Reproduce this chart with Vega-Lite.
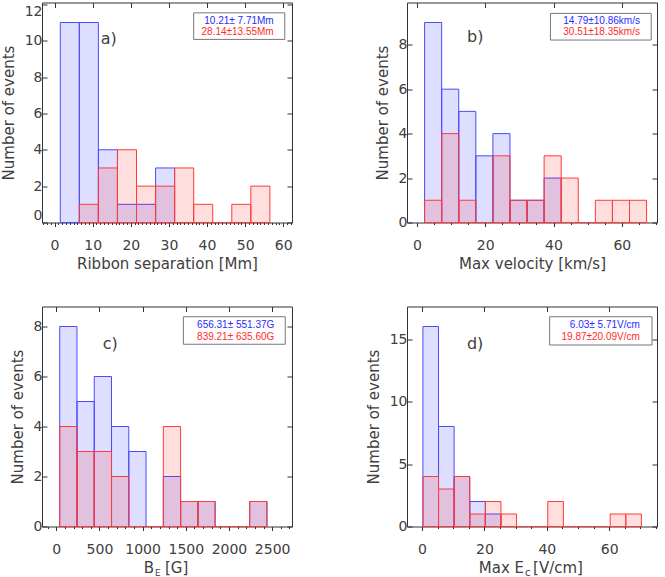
{
  "$schema": "https://vega.github.io/schema/vega-lite/v6.json",
  "padding": {"left": 0, "top": 1.5, "right": 0, "bottom": 0},
  "background": "white",
  "datasets": {
    "hist": [
      {"p": "a", "g": "A", "x0": 1.5, "x1": 6.5, "n": 11},
      {"p": "a", "g": "A", "x0": 6.5, "x1": 11.5, "n": 11},
      {"p": "a", "g": "A", "x0": 11.5, "x1": 16.5, "n": 4},
      {"p": "a", "g": "A", "x0": 16.5, "x1": 21.5, "n": 1},
      {"p": "a", "g": "A", "x0": 21.5, "x1": 26.5, "n": 1},
      {"p": "a", "g": "A", "x0": 26.5, "x1": 31.5, "n": 3},
      {"p": "a", "g": "B", "x0": 6.5, "x1": 11.5, "n": 1},
      {"p": "a", "g": "B", "x0": 11.5, "x1": 16.5, "n": 3},
      {"p": "a", "g": "B", "x0": 16.5, "x1": 21.5, "n": 4},
      {"p": "a", "g": "B", "x0": 21.5, "x1": 26.5, "n": 2},
      {"p": "a", "g": "B", "x0": 26.5, "x1": 31.5, "n": 2},
      {"p": "a", "g": "B", "x0": 31.5, "x1": 36.5, "n": 3},
      {"p": "a", "g": "B", "x0": 36.5, "x1": 41.5, "n": 1},
      {"p": "a", "g": "B", "x0": 41.5, "x1": 46.5, "n": 0},
      {"p": "a", "g": "B", "x0": 46.5, "x1": 51.5, "n": 1},
      {"p": "a", "g": "B", "x0": 51.5, "x1": 56.5, "n": 2},

      {"p": "b", "g": "A", "x0": 2.25, "x1": 7.25, "n": 9},
      {"p": "b", "g": "A", "x0": 7.25, "x1": 12.25, "n": 6},
      {"p": "b", "g": "A", "x0": 12.25, "x1": 17.25, "n": 5},
      {"p": "b", "g": "A", "x0": 17.25, "x1": 22.25, "n": 3},
      {"p": "b", "g": "A", "x0": 22.25, "x1": 27.25, "n": 4},
      {"p": "b", "g": "A", "x0": 27.25, "x1": 32.25, "n": 1},
      {"p": "b", "g": "A", "x0": 32.25, "x1": 37.25, "n": 1},
      {"p": "b", "g": "A", "x0": 37.25, "x1": 42.25, "n": 2},
      {"p": "b", "g": "B", "x0": 2.25, "x1": 7.25, "n": 1},
      {"p": "b", "g": "B", "x0": 7.25, "x1": 12.25, "n": 4},
      {"p": "b", "g": "B", "x0": 12.25, "x1": 17.25, "n": 1},
      {"p": "b", "g": "B", "x0": 17.25, "x1": 22.25, "n": 0},
      {"p": "b", "g": "B", "x0": 22.25, "x1": 27.25, "n": 3},
      {"p": "b", "g": "B", "x0": 27.25, "x1": 32.25, "n": 1},
      {"p": "b", "g": "B", "x0": 32.25, "x1": 37.25, "n": 1},
      {"p": "b", "g": "B", "x0": 37.25, "x1": 42.25, "n": 3},
      {"p": "b", "g": "B", "x0": 42.25, "x1": 47.25, "n": 2},
      {"p": "b", "g": "B", "x0": 47.25, "x1": 52.25, "n": 0},
      {"p": "b", "g": "B", "x0": 52.25, "x1": 57.25, "n": 1},
      {"p": "b", "g": "B", "x0": 57.25, "x1": 62.25, "n": 1},
      {"p": "b", "g": "B", "x0": 62.25, "x1": 67.25, "n": 1},

      {"p": "c", "g": "A", "x0": 40, "x1": 240, "n": 8},
      {"p": "c", "g": "A", "x0": 240, "x1": 440, "n": 5},
      {"p": "c", "g": "A", "x0": 440, "x1": 640, "n": 6},
      {"p": "c", "g": "A", "x0": 640, "x1": 840, "n": 4},
      {"p": "c", "g": "A", "x0": 840, "x1": 1040, "n": 3},
      {"p": "c", "g": "A", "x0": 1040, "x1": 1240, "n": 0},
      {"p": "c", "g": "A", "x0": 1240, "x1": 1440, "n": 2},
      {"p": "c", "g": "A", "x0": 1440, "x1": 1640, "n": 1},
      {"p": "c", "g": "A", "x0": 1640, "x1": 1840, "n": 1},
      {"p": "c", "g": "A", "x0": 1840, "x1": 2040, "n": 0},
      {"p": "c", "g": "A", "x0": 2040, "x1": 2240, "n": 0},
      {"p": "c", "g": "A", "x0": 2240, "x1": 2440, "n": 1},
      {"p": "c", "g": "B", "x0": 40, "x1": 240, "n": 4},
      {"p": "c", "g": "B", "x0": 240, "x1": 440, "n": 3},
      {"p": "c", "g": "B", "x0": 440, "x1": 640, "n": 3},
      {"p": "c", "g": "B", "x0": 640, "x1": 840, "n": 2},
      {"p": "c", "g": "B", "x0": 840, "x1": 1040, "n": 0},
      {"p": "c", "g": "B", "x0": 1040, "x1": 1240, "n": 0},
      {"p": "c", "g": "B", "x0": 1240, "x1": 1440, "n": 4},
      {"p": "c", "g": "B", "x0": 1440, "x1": 1640, "n": 1},
      {"p": "c", "g": "B", "x0": 1640, "x1": 1840, "n": 1},
      {"p": "c", "g": "B", "x0": 1840, "x1": 2040, "n": 0},
      {"p": "c", "g": "B", "x0": 2040, "x1": 2240, "n": 0},
      {"p": "c", "g": "B", "x0": 2240, "x1": 2440, "n": 1},

      {"p": "d", "g": "A", "x0": 0.3, "x1": 5.3, "n": 16},
      {"p": "d", "g": "A", "x0": 5.3, "x1": 10.3, "n": 8},
      {"p": "d", "g": "A", "x0": 10.3, "x1": 15.3, "n": 4},
      {"p": "d", "g": "A", "x0": 15.3, "x1": 20.3, "n": 2},
      {"p": "d", "g": "A", "x0": 20.3, "x1": 25.3, "n": 1},
      {"p": "d", "g": "B", "x0": 0.3, "x1": 5.3, "n": 4},
      {"p": "d", "g": "B", "x0": 5.3, "x1": 10.3, "n": 3},
      {"p": "d", "g": "B", "x0": 10.3, "x1": 15.3, "n": 4},
      {"p": "d", "g": "B", "x0": 15.3, "x1": 20.3, "n": 1},
      {"p": "d", "g": "B", "x0": 20.3, "x1": 25.3, "n": 2},
      {"p": "d", "g": "B", "x0": 25.3, "x1": 30.3, "n": 1},
      {"p": "d", "g": "B", "x0": 30.3, "x1": 35.3, "n": 0},
      {"p": "d", "g": "B", "x0": 35.3, "x1": 40.3, "n": 0},
      {"p": "d", "g": "B", "x0": 40.3, "x1": 45.3, "n": 2},
      {"p": "d", "g": "B", "x0": 45.3, "x1": 50.3, "n": 0},
      {"p": "d", "g": "B", "x0": 50.3, "x1": 55.3, "n": 0},
      {"p": "d", "g": "B", "x0": 55.3, "x1": 60.3, "n": 0},
      {"p": "d", "g": "B", "x0": 60.3, "x1": 65.3, "n": 1},
      {"p": "d", "g": "B", "x0": 65.3, "x1": 70.3, "n": 1}
    ]
  },
  "columns": 2,
  "spacing": {"row": 84, "column": 115},
  "bounds": "flush",
  "concat": [
    {
      "width": 250,
      "height": 220,
      "layer": [
        {
          "data": {"name": "hist"},
          "transform": [{"filter": "datum.p === 'a'"}],
          "mark": {"type": "rect", "fillOpacity": 0.13, "strokeWidth": 1},
          "encoding": {
            "x": {"field": "x0", "type": "quantitative",
                  "scale": {"domain": [-3.3, 62.3], "nice": false, "zero": false},
                  "axis": {"orient": "bottom", "values": [0, 10, 20, 30, 40, 50, 60], "tickSize": 4, "title": "Ribbon separation [Mm]"}},
            "x2": {"field": "x1"},
            "y": {"field": "n", "type": "quantitative",
                  "scale": {"domain": [0, 12.1], "nice": false},
                  "axis": {"orient": "left", "values": [0, 2, 4, 6, 8, 10, 12], "tickSize": -5, "labelFlush": 6, "title": "Number of events"}},
            "y2": {"datum": 0},
            "fill": {"field": "g", "type": "nominal", "scale": {"domain": ["A", "B"], "range": ["#0000ff", "#ff0000"]}, "legend": null},
            "stroke": {"field": "g", "type": "nominal", "scale": {"domain": ["A", "B"], "range": ["#4a4aff", "#ff3a3a"]}, "legend": null}
          }
        },
        {
          "data": {"values": [{}]},
          "mark": {"type": "rect", "fill": "white", "stroke": "#777777", "strokeWidth": 1},
          "encoding": {
            "x": {"datum": 36.5, "type": "quantitative",
                  "axis": {"orient": "bottom", "values": [-3, -2, -1, 0, 1, 2, 3, 4, 5, 6, 7, 8, 9, 10, 11, 12, 13, 14, 15, 16, 17, 18, 19, 20, 21, 22, 23, 24, 25, 26, 27, 28, 29, 30, 31, 32, 33, 34, 35, 36, 37, 38, 39, 40, 41, 42, 43, 44, 45, 46, 47, 48, 49, 50, 51, 52, 53, 54, 55, 56, 57, 58, 59, 60, 61, 62], "tickSize": 2, "labels": false, "title": null}},
            "x2": {"datum": 60.4},
            "y": {"datum": 11.53, "type": "quantitative",
                  "axis": {"orient": "right", "values": [0, 2, 4, 6, 8, 10, 12], "tickSize": -5, "labels": false, "title": null}},
            "y2": {"datum": 10.07}
          }
        },
        {
          "data": {"values": [{}]},
          "mark": {"type": "text", "align": "right", "baseline": "middle", "font": "Liberation Sans", "fontSize": 10, "color": "#2a2aff"},
          "encoding": {
            "x": {"datum": 57.5, "type": "quantitative",
                  "axis": {"orient": "top", "values": [0, 10, 20, 30, 40, 50, 60], "tickSize": -5, "labels": false, "title": null}},
            "y": {"datum": 11.11, "type": "quantitative", "axis": null},
            "text": {"value": "10.21± 7.71Mm"}
          }
        },
        {
          "data": {"values": [{}]},
          "mark": {"type": "text", "align": "right", "baseline": "middle", "font": "Liberation Sans", "fontSize": 10, "color": "#ff2a2a"},
          "encoding": {
            "x": {"datum": 57.5, "type": "quantitative", "axis": null},
            "y": {"datum": 10.5, "type": "quantitative", "axis": null},
            "text": {"value": "28.14±13.55Mm"}
          }
        },
        {
          "data": {"values": [{}]},
          "mark": {"type": "text", "align": "left", "baseline": "middle", "font": "DejaVu Sans", "fontSize": 16, "color": "#404040"},
          "encoding": {
            "x": {"datum": 12.1, "type": "quantitative", "axis": null},
            "y": {"datum": 10.09, "type": "quantitative", "axis": null},
            "text": {"value": "a)"}
          }
        }
      ],
      "resolve": {"axis": {"x": "independent", "y": "independent"}}
    },
    {
      "width": 250,
      "height": 220,
      "layer": [
        {
          "data": {"name": "hist"},
          "transform": [{"filter": "datum.p === 'b'"}],
          "mark": {"type": "rect", "fillOpacity": 0.13, "strokeWidth": 1},
          "encoding": {
            "x": {"field": "x0", "type": "quantitative",
                  "scale": {"domain": [-2.9, 70.3], "nice": false, "zero": false},
                  "axis": {"orient": "bottom", "values": [0, 20, 40, 60], "tickSize": 4, "title": "Max velocity [km/s]"}},
            "x2": {"field": "x1"},
            "y": {"field": "n", "type": "quantitative",
                  "scale": {"domain": [0, 9.9], "nice": false},
                  "axis": {"orient": "left", "values": [0, 2, 4, 6, 8], "tickSize": -5, "title": "Number of events"}},
            "y2": {"datum": 0},
            "fill": {"field": "g", "type": "nominal", "scale": {"domain": ["A", "B"], "range": ["#0000ff", "#ff0000"]}, "legend": null},
            "stroke": {"field": "g", "type": "nominal", "scale": {"domain": ["A", "B"], "range": ["#4a4aff", "#ff3a3a"]}, "legend": null}
          }
        },
        {
          "data": {"values": [{}]},
          "mark": {"type": "rect", "fill": "white", "stroke": "#777777", "strokeWidth": 1},
          "encoding": {
            "x": {"datum": 39.1, "type": "quantitative",
                  "axis": {"orient": "bottom", "values": [0, 5, 10, 15, 20, 25, 30, 35, 40, 45, 50, 55, 60, 65, 70], "tickSize": 2, "labels": false, "title": null}},
            "x2": {"datum": 68.6},
            "y": {"datum": 9.41, "type": "quantitative",
                  "axis": {"orient": "right", "values": [0, 2, 4, 6, 8], "tickSize": -5, "labels": false, "title": null}},
            "y2": {"datum": 8.21}
          }
        },
        {
          "data": {"values": [{}]},
          "mark": {"type": "text", "align": "right", "baseline": "middle", "font": "Liberation Sans", "fontSize": 10, "color": "#2a2aff"},
          "encoding": {
            "x": {"datum": 65.3, "type": "quantitative",
                  "axis": {"orient": "top", "values": [0, 20, 40, 60], "tickSize": -5, "labels": false, "title": null}},
            "y": {"datum": 9.07, "type": "quantitative", "axis": null},
            "text": {"value": "14.79±10.86km/s"}
          }
        },
        {
          "data": {"values": [{}]},
          "mark": {"type": "text", "align": "right", "baseline": "middle", "font": "Liberation Sans", "fontSize": 10, "color": "#ff2a2a"},
          "encoding": {
            "x": {"datum": 65.3, "type": "quantitative", "axis": null},
            "y": {"datum": 8.57, "type": "quantitative", "axis": null},
            "text": {"value": "30.51±18.35km/s"}
          }
        },
        {
          "data": {"values": [{}]},
          "mark": {"type": "text", "align": "left", "baseline": "middle", "font": "DejaVu Sans", "fontSize": 16, "color": "#404040"},
          "encoding": {
            "x": {"datum": 14.7, "type": "quantitative", "axis": null},
            "y": {"datum": 8.35, "type": "quantitative", "axis": null},
            "text": {"value": "b)"}
          }
        }
      ],
      "resolve": {"axis": {"x": "independent", "y": "independent"}}
    },
    {
      "width": 250,
      "height": 220,
      "layer": [
        {
          "data": {"name": "hist"},
          "transform": [{"filter": "datum.p === 'c'"}],
          "mark": {"type": "rect", "fillOpacity": 0.13, "strokeWidth": 1},
          "encoding": {
            "x": {"field": "x0", "type": "quantitative",
                  "scale": {"domain": [-165, 2730], "nice": false, "zero": false},
                  "axis": {"orient": "bottom", "values": [0, 500, 1000, 1500, 2000, 2500], "tickSize": 4, "title": null}},
            "x2": {"field": "x1"},
            "y": {"field": "n", "type": "quantitative",
                  "scale": {"domain": [0, 8.8], "nice": false},
                  "axis": {"orient": "left", "values": [0, 2, 4, 6, 8], "tickSize": -5, "title": "Number of events"}},
            "y2": {"datum": 0},
            "fill": {"field": "g", "type": "nominal", "scale": {"domain": ["A", "B"], "range": ["#0000ff", "#ff0000"]}, "legend": null},
            "stroke": {"field": "g", "type": "nominal", "scale": {"domain": ["A", "B"], "range": ["#4a4aff", "#ff3a3a"]}, "legend": null}
          }
        },
        {
          "data": {"values": [{}]},
          "mark": {"type": "rect", "fill": "white", "stroke": "#777777", "strokeWidth": 1},
          "encoding": {
            "x": {"datum": 1472, "type": "quantitative",
                  "axis": {"orient": "bottom", "values": [-100, 0, 100, 200, 300, 400, 500, 600, 700, 800, 900, 1000, 1100, 1200, 1300, 1400, 1500, 1600, 1700, 1800, 1900, 2000, 2100, 2200, 2300, 2400, 2500, 2600, 2700], "tickSize": 2, "labels": false, "title": null}},
            "x2": {"datum": 2652},
            "y": {"datum": 8.39, "type": "quantitative",
                  "axis": {"orient": "right", "values": [0, 2, 4, 6, 8], "tickSize": -5, "labels": false, "title": null}},
            "y2": {"datum": 7.29}
          }
        },
        {
          "data": {"values": [{}]},
          "mark": {"type": "text", "align": "right", "baseline": "middle", "font": "Liberation Sans", "fontSize": 10, "color": "#2a2aff"},
          "encoding": {
            "x": {"datum": 2525, "type": "quantitative",
                  "axis": {"orient": "top", "values": [0, 500, 1000, 1500, 2000, 2500], "tickSize": -5, "labels": false, "title": null}},
            "y": {"datum": 8.05, "type": "quantitative", "axis": null},
            "text": {"value": "656.31± 551.37G"}
          }
        },
        {
          "data": {"values": [{}]},
          "mark": {"type": "text", "align": "right", "baseline": "middle", "font": "Liberation Sans", "fontSize": 10, "color": "#ff2a2a"},
          "encoding": {
            "x": {"datum": 2525, "type": "quantitative", "axis": null},
            "y": {"datum": 7.58, "type": "quantitative", "axis": null},
            "text": {"value": "839.21± 635.60G"}
          }
        },
        {
          "data": {"values": [{}]},
          "mark": {"type": "text", "align": "left", "baseline": "middle", "font": "DejaVu Sans", "fontSize": 16, "color": "#404040"},
          "encoding": {
            "x": {"datum": 539, "type": "quantitative", "axis": null},
            "y": {"datum": 7.31, "type": "quantitative", "axis": null},
            "text": {"value": "c)"}
          }
        },
        {
          "data": {"values": [{}]},
          "mark": {"type": "text", "align": "right", "baseline": "alphabetic", "font": "DejaVu Sans", "fontSize": 15, "color": "#404040"},
          "encoding": {
            "x": {"datum": 1132, "type": "quantitative", "axis": null},
            "y": {"datum": -1.85, "type": "quantitative", "axis": null},
            "text": {"value": "B"}
          }
        },
        {
          "data": {"values": [{}]},
          "mark": {"type": "text", "align": "left", "baseline": "alphabetic", "font": "DejaVu Sans", "fontSize": 9, "color": "#404040"},
          "encoding": {
            "x": {"datum": 1144, "type": "quantitative", "axis": null},
            "y": {"datum": -1.96, "type": "quantitative", "axis": null},
            "text": {"value": "E"}
          }
        },
        {
          "data": {"values": [{}]},
          "mark": {"type": "text", "align": "left", "baseline": "alphabetic", "font": "DejaVu Sans", "fontSize": 15, "color": "#404040"},
          "encoding": {
            "x": {"datum": 1259, "type": "quantitative", "axis": null},
            "y": {"datum": -1.85, "type": "quantitative", "axis": null},
            "text": {"value": "[G]"}
          }
        }
      ],
      "resolve": {"axis": {"x": "independent", "y": "independent"}}
    },
    {
      "width": 250,
      "height": 220,
      "layer": [
        {
          "data": {"name": "hist"},
          "transform": [{"filter": "datum.p === 'd'"}],
          "mark": {"type": "rect", "fillOpacity": 0.13, "strokeWidth": 1},
          "encoding": {
            "x": {"field": "x0", "type": "quantitative",
                  "scale": {"domain": [-4.8, 75.3], "nice": false, "zero": false},
                  "axis": {"orient": "bottom", "values": [0, 20, 40, 60], "tickSize": 4, "title": null}},
            "x2": {"field": "x1"},
            "y": {"field": "n", "type": "quantitative",
                  "scale": {"domain": [0, 17.6], "nice": false},
                  "axis": {"orient": "left", "values": [0, 5, 10, 15], "tickSize": -5, "title": "Number of events"}},
            "y2": {"datum": 0},
            "fill": {"field": "g", "type": "nominal", "scale": {"domain": ["A", "B"], "range": ["#0000ff", "#ff0000"]}, "legend": null},
            "stroke": {"field": "g", "type": "nominal", "scale": {"domain": ["A", "B"], "range": ["#4a4aff", "#ff3a3a"]}, "legend": null}
          }
        },
        {
          "data": {"values": [{}]},
          "mark": {"type": "rect", "fill": "white", "stroke": "#777777", "strokeWidth": 1},
          "encoding": {
            "x": {"datum": 40.9, "type": "quantitative",
                  "axis": {"orient": "bottom", "values": [0, 5, 10, 15, 20, 25, 30, 35, 40, 45, 50, 55, 60, 65, 70, 75], "tickSize": 2, "labels": false, "title": null}},
            "x2": {"datum": 73.7},
            "y": {"datum": 16.78, "type": "quantitative",
                  "axis": {"orient": "right", "values": [0, 5, 10, 15], "tickSize": -5, "labels": false, "title": null}},
            "y2": {"datum": 14.52}
          }
        },
        {
          "data": {"values": [{}]},
          "mark": {"type": "text", "align": "right", "baseline": "middle", "font": "Liberation Sans", "fontSize": 10, "color": "#2a2aff"},
          "encoding": {
            "x": {"datum": 69.8, "type": "quantitative",
                  "axis": {"orient": "top", "values": [0, 20, 40, 60], "tickSize": -5, "labels": false, "title": null}},
            "y": {"datum": 16.1, "type": "quantitative", "axis": null},
            "text": {"value": "6.03± 5.71V/cm"}
          }
        },
        {
          "data": {"values": [{}]},
          "mark": {"type": "text", "align": "right", "baseline": "middle", "font": "Liberation Sans", "fontSize": 10, "color": "#ff2a2a"},
          "encoding": {
            "x": {"datum": 69.8, "type": "quantitative", "axis": null},
            "y": {"datum": 15.18, "type": "quantitative", "axis": null},
            "text": {"value": "19.87±20.09V/cm"}
          }
        },
        {
          "data": {"values": [{}]},
          "mark": {"type": "text", "align": "left", "baseline": "middle", "font": "DejaVu Sans", "fontSize": 16, "color": "#404040"},
          "encoding": {
            "x": {"datum": 14.4, "type": "quantitative", "axis": null},
            "y": {"datum": 14.58, "type": "quantitative", "axis": null},
            "text": {"value": "d)"}
          }
        },
        {
          "data": {"values": [{}]},
          "mark": {"type": "text", "align": "right", "baseline": "alphabetic", "font": "DejaVu Sans", "fontSize": 15, "color": "#404040"},
          "encoding": {
            "x": {"datum": 32.7, "type": "quantitative", "axis": null},
            "y": {"datum": -3.7, "type": "quantitative", "axis": null},
            "text": {"value": "Max E"}
          }
        },
        {
          "data": {"values": [{}]},
          "mark": {"type": "text", "align": "left", "baseline": "alphabetic", "font": "DejaVu Sans", "fontSize": 10, "color": "#404040"},
          "encoding": {
            "x": {"datum": 33.0, "type": "quantitative", "axis": null},
            "y": {"datum": -3.92, "type": "quantitative", "axis": null},
            "text": {"value": "c"}
          }
        },
        {
          "data": {"values": [{}]},
          "mark": {"type": "text", "align": "left", "baseline": "alphabetic", "font": "DejaVu Sans", "fontSize": 15, "color": "#404040"},
          "encoding": {
            "x": {"datum": 35.6, "type": "quantitative", "axis": null},
            "y": {"datum": -3.7, "type": "quantitative", "axis": null},
            "text": {"value": "[V/cm]"}
          }
        }
      ],
      "resolve": {"axis": {"x": "independent", "y": "independent"}}
    }
  ],
  "config": {
    "view": {"stroke": "#333333", "strokeWidth": 1},
    "axis": {
      "grid": false,
      "domain": false,
      "format": "d",
      "labelFont": "DejaVu Sans",
      "labelFontSize": 14,
      "labelColor": "#404040",
      "labelOverlap": false,
      "labelFlush": false,
      "labelPadding": 12,
      "titleFont": "DejaVu Sans",
      "titleFontSize": 15,
      "titleFontWeight": "normal",
      "titleColor": "#404040",
      "titlePadding": 4,
      "tickColor": "#333333",
      "tickWidth": 1
    },
    "axisLeft": {"labelPadding": 5, "titlePadding": 8}
  }
}
